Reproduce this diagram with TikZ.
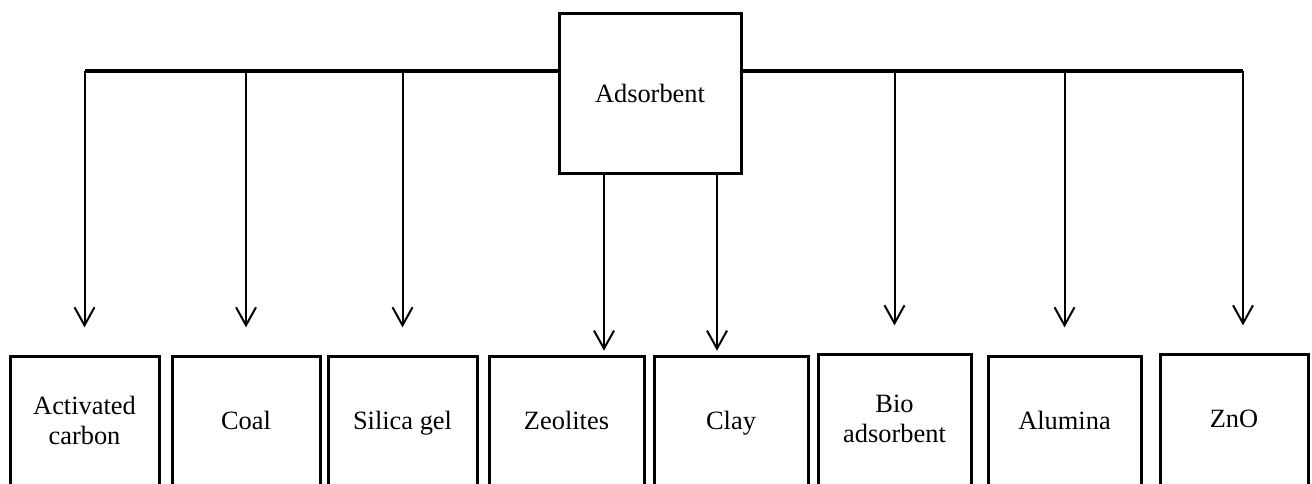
\documentclass[tikz,border=0pt]{standalone}
\usepackage{fontspec}
\setmainfont{Liberation Serif}
\usetikzlibrary{arrows.meta}
\def\PX{0.75pt}
\tikzset{
  x=0.75pt, y=-0.75pt,
  boxstyle/.style={draw, line width=2.25pt, outer sep=0pt, inner sep=2pt,
    align=center, font=\fontsize{19.8pt}{22.6pt}\selectfont},
  leaf/.style={boxstyle, anchor=north, text depth=0.22em,
    minimum height=132*\PX, minimum width=#1*\PX},
  bar/.style={line width=2.4pt},
  arr/.style={line width=1.5pt, -{Straight Barb[length=13.5pt, width=15pt, line width=1.5pt]}},
  gap/.style={shorten >=21.5pt},
  touch/.style={shorten >=4pt}
}
\begin{document}
\begin{tikzpicture}
\useasboundingbox (0,0) rectangle (1312,483);
\clip (0,0) rectangle (1312,483);

% root box
\node[boxstyle, minimum width=182*\PX, minimum height=160*\PX] (top) at (650,93) {Adsorbent};

% leaf boxes (their lower edges run off the page)
\node[leaf=149] (ac)  at (84.5,356)  {Activated\\carbon};
\node[leaf=148] (coal) at (246,356)  {Coal};
\node[leaf=149] (sil) at (402.5,356) {Silica gel};
\node[leaf=155] (zeo) at (566.5,356) {Zeolites};
\node[leaf=154] (clay) at (731,356)  {Clay};
\node[leaf=153] (bio) at (894.5,354) {Bio\\adsorbent};
\node[leaf=153] (alu) at (1064.5,356) {Alumina};
\node[leaf=148] (zno) at (1234,354)  {ZnO};

% distribution bar
\coordinate (hl) at (85,71);
\coordinate (hr) at (1243,71);
\draw[bar] (hl) -- (hl -| top.west);
\draw[bar] (top.east |- hr) -- (hr);

% branches from the bar
\draw[arr, gap] (hl -| ac.north) -- (ac.north);
\draw[arr, gap] (hl -| coal.north) -- (coal.north);
\draw[arr, gap] (hl -| sil.north) -- (sil.north);
\draw[arr, gap] (hl -| bio.north) -- (bio.north);
\draw[arr, gap] (hl -| alu.north) -- (alu.north);
\draw[arr, gap] (hr) -- (hr |- zno.north);

% branches from the root box
\coordinate (tz) at ([xshift=45*\PX]top.south west);
\coordinate (tc) at ([xshift=-24*\PX]top.south east);
\draw[arr, touch] (tz) -- (tz |- zeo.north);
\draw[arr, touch] (tc) -- (tc |- clay.north);
\end{tikzpicture}
\end{document}
